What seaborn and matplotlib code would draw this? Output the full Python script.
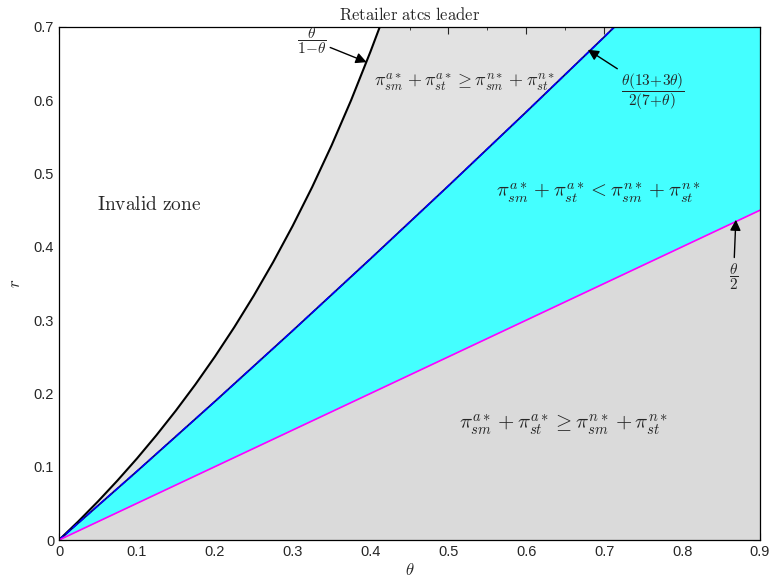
import numpy as np
import pandas as pd
import matplotlib
matplotlib.use("Agg")
import matplotlib.pyplot as plt
import seaborn as sns
from matplotlib.ticker import MultipleLocator

# ---- data ----
theta_black = [0, 0.025, 0.05, 0.075, 0.1, 0.125, 0.15, 0.175, 0.2, 0.225, 0.25,
               0.275, 0.3, 0.325, 0.35, 0.375, 0.4, 0.4118]
r_black = [0, 0.0256, 0.0526, 0.0811, 0.1111, 0.1429, 0.1765, 0.2121, 0.25, 0.2903,
           0.3333, 0.3793, 0.4286, 0.4815, 0.5385, 0.6, 0.6667, 0.7]
theta_blue = [0, 0.1, 0.2, 0.3, 0.4, 0.5, 0.6, 0.7, 0.713]
r_blue = [0, 0.0937, 0.1889, 0.2856, 0.3838, 0.4833, 0.5842, 0.6864, 0.70]
theta_mag = [0, 0.9]
r_mag = [0, 0.45]
x_ticks = [0, 0.1, 0.2, 0.3, 0.4, 0.5, 0.6, 0.7, 0.8, 0.9]
y_ticks = [0, 0.1, 0.2, 0.3, 0.4, 0.5, 0.6, 0.7]
x_max, y_max = 0.9, 0.7

sns.set_style("ticks")
plt.rcParams["mathtext.fontset"] = "cm"
plt.rcParams["font.family"] = ["Liberation Sans", "DejaVu Sans"]

fig = plt.figure(figsize=(7.69, 5.82), dpi=100)
ax = fig.add_axes([59/769, 1-540/582, (760-59)/769, (540-27)/582])

# ---- fills ----
ax.set_facecolor("#e2e2e2")
tb = np.array(theta_black); rb = np.array(r_black)
ax.fill_betweenx(np.append(rb, y_max), 0, np.append(tb, tb[-1]), color="white", lw=0)
tbl = np.append(theta_blue, [0.8, x_max]); rbl = np.append(r_blue, [y_max, y_max])
ax.fill_between(tbl, np.interp(tbl, theta_mag, r_mag), rbl, color="#44ffff", lw=0)
ax.fill_between(theta_mag, 0, r_mag, color="#dadada", lw=0)

# ---- lines ----
df_b = pd.DataFrame({"theta": theta_black, "r": r_black})
df_bl = pd.DataFrame({"theta": theta_blue, "r": r_blue})
df_m = pd.DataFrame({"theta": theta_mag, "r": r_mag})
sns.lineplot(data=df_b, x="theta", y="r", ax=ax, color="black", lw=1.5, sort=False)
sns.lineplot(data=df_bl, x="theta", y="r", ax=ax, color="#000080", lw=1.3, sort=False)
sns.lineplot(data=df_bl, x="theta", y="r", ax=ax, color="blue", lw=1.1, ls=(0, (4, 2)), sort=False)
sns.lineplot(data=df_m, x="theta", y="r", ax=ax, color="magenta", lw=1.2, sort=False)

ax.set_xlim(0, x_max)
ax.set_ylim(0, y_max)
ax.set_xticks(x_ticks)
ax.set_yticks(y_ticks)
ax.set_xticklabels([f"{v:g}" for v in x_ticks])
ax.set_yticklabels([f"{v:g}" for v in y_ticks])
ax.xaxis.set_minor_locator(MultipleLocator(0.05))
ax.tick_params(which="both", direction="in", top=True, right=True, labelsize=10.5)
ax.tick_params(which="major", length=5)
ax.tick_params(which="minor", length=2.5)
for s in ax.spines.values():
    s.set_visible(True)
    s.set_color("black")
    s.set_linewidth(0.9)

ax.set_xlabel(r"$\theta$", fontsize=12, labelpad=2)
ax.set_ylabel(r"$r$", fontsize=12, labelpad=8)
ax.set_title(r"$\mathrm{Retailer\ atcs\ leader}$", fontsize=12, pad=5)

# ---- annotations ----
ax.text(0.0488, 0.457, r"$\mathrm{Invalid\ zone}$", fontsize=14, ha="left", va="center")
ineq_ge = r"$\pi^{a*}_{sm}+\pi^{a*}_{st}\geq\pi^{n*}_{sm}+\pi^{n*}_{st}$"
ineq_lt = r"$\pi^{a*}_{sm}+\pi^{a*}_{st}<\pi^{n*}_{sm}+\pi^{n*}_{st}$"
ax.text(0.521, 0.625, ineq_ge, fontsize=13, ha="center", va="center")
ax.text(0.693, 0.473, ineq_lt, fontsize=14.7, ha="center", va="center")
ax.text(0.648, 0.157, ineq_ge, fontsize=15, ha="center", va="center")

ap = dict(arrowstyle="-|>", color="black", lw=1.0, mutation_scale=16, shrinkA=0, shrinkB=0)
ax.annotate(r"$\dfrac{\theta}{1\!-\!\theta}$", xy=(0.395, 0.652), xytext=(0.325, 0.682),
            fontsize=11, ha="center", va="center", arrowprops=ap)
ax.annotate(r"$\dfrac{\theta(13\!+\!3\theta)}{2(7\!+\!\theta)}$", xy=(0.679, 0.669),
            xytext=(0.762, 0.612), fontsize=11, ha="center", va="center", arrowprops=ap)
ax.annotate(r"$\dfrac{\theta}{2}$", xy=(0.869, 0.437), xytext=(0.866, 0.36),
            fontsize=11, ha="center", va="center", arrowprops=ap)

fig.savefig("out.png", dpi=100)
